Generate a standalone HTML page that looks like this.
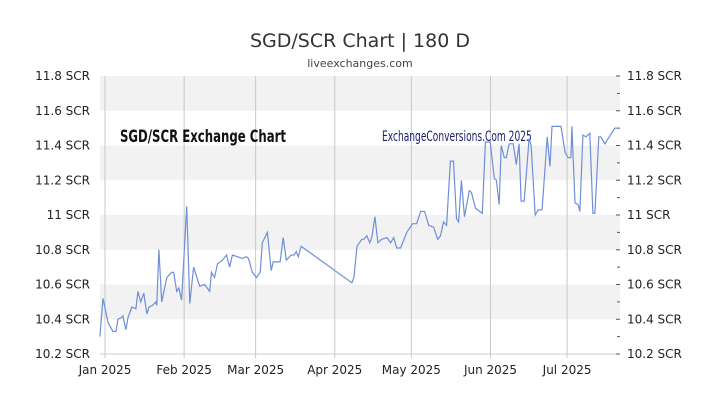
<!DOCTYPE html>
<html><head><meta charset="utf-8"><style>
body{margin:0;background:#fff;font-family:"DejaVu Sans","Liberation Sans",sans-serif}
</style></head><body>
<svg width="720" height="405" viewBox="0 0 720 405" xmlns="http://www.w3.org/2000/svg">
<text x="360" y="47" text-anchor="middle" font-size="19" fill="#333">SGD/SCR Chart | 180 D</text>
<text x="360" y="67" text-anchor="middle" font-size="11" fill="#444">liveexchanges.com</text>
<g id="bands"></g><g id="grid"></g><g id="yl"></g><g id="xl"></g>
<text x="120" y="142" font-size="17" font-weight="bold" fill="#111" transform="translate(120,0) scale(0.69,1) translate(-120,0)">SGD/SCR Exchange Chart</text>
<text x="382" y="141" font-size="14" fill="#1a1a6e" transform="translate(382,0) scale(0.65,1) translate(-382,0)">ExchangeConversions.Com 2025</text>
<path id="line" fill="none" stroke="#6f8fd8" stroke-width="1.2"/>
</svg>
<script>
const yTicks=[10.2,10.4,10.6,10.8,11,11.2,11.4,11.6,11.8];
const yTickLabels=["10.2 SCR","10.4 SCR","10.6 SCR","10.8 SCR","11 SCR","11.2 SCR","11.4 SCR","11.6 SCR","11.8 SCR"];
const monthDays=[0,31,59,90,120,151,181];
const monthLabels=["Jan 2025","Feb 2025","Mar 2025","Apr 2025","May 2025","Jun 2025","Jul 2025"];
const days=[-2.0,-0.8,1.2,3.1,4.3,5.1,6.6,7.0,8.2,9.0,10.5,12.1,12.9,14.0,15.2,16.4,17.2,18.7,19.9,20.3,21.1,22.2,24.2,26.1,26.9,28.1,28.9,30.0,32.0,33.2,34.7,37.1,39.0,41.0,41.7,42.9,44.1,46.0,47.6,48.8,49.9,51.9,53.8,55.4,56.2,57.7,59.3,60.8,61.6,63.6,65.1,65.9,68.6,69.8,71.0,72.9,74.1,74.9,75.7,76.8,96.7,97.5,98.7,100.6,101.4,102.6,103.7,104.5,105.7,106.9,108.4,110.4,111.9,113.1,114.3,115.8,118.2,120.5,122.1,123.6,125.2,126.8,128.7,130.3,131.4,132.6,133.8,135.3,136.5,137.7,138.5,139.6,140.8,142.7,143.5,145.1,147.8,149.0,150.9,152.5,153.3,154.4,155.2,156.4,157.2,158.3,159.9,161.1,162.2,163.0,164.2,166.1,166.9,168.5,169.7,171.2,173.2,174.3,175.1,176.7,178.6,180.2,181.4,182.5,182.9,184.1,185.3,186.0,187.2,188.4,189.9,191.1,191.9,193.4,194.2,195.8,199.7,200.9];
const rates=[10.30,10.52,10.38,10.33,10.33,10.40,10.41,10.42,10.34,10.41,10.47,10.46,10.56,10.50,10.55,10.43,10.47,10.48,10.50,10.48,10.80,10.50,10.64,10.67,10.67,10.56,10.58,10.51,11.05,10.49,10.70,10.59,10.60,10.56,10.67,10.64,10.72,10.74,10.77,10.70,10.77,10.76,10.75,10.76,10.75,10.67,10.64,10.67,10.84,10.90,10.68,10.73,10.73,10.87,10.74,10.77,10.77,10.79,10.76,10.82,10.61,10.64,10.82,10.86,10.86,10.88,10.84,10.87,10.99,10.84,10.86,10.87,10.84,10.87,10.81,10.81,10.90,10.95,10.95,11.02,11.02,10.94,10.93,10.86,10.88,10.96,10.94,11.31,11.31,10.98,10.96,11.20,10.99,11.14,11.13,11.04,11.01,11.42,11.42,11.21,11.20,11.06,11.40,11.33,11.33,11.41,11.41,11.29,11.41,11.08,11.08,11.44,11.40,11.00,11.03,11.03,11.45,11.28,11.51,11.51,11.51,11.36,11.33,11.33,11.51,11.07,11.06,11.02,11.46,11.45,11.47,11.01,11.01,11.45,11.45,11.41,11.50,11.50];
const X0=100,X1=620,Y0=354,Y1=76;
const xs=d=>105+d*2.553;
const ys=v=>Y0-(v-10.2)/(11.8-10.2)*(Y0-Y1);
const NS="http://www.w3.org/2000/svg";
function mk(p,t,a){const e=document.createElementNS(NS,t);for(const k in a)e.setAttribute(k,a[k]);document.getElementById(p).appendChild(e);return e;}
for(let i=0;i<yTicks.length-1;i++){
  if(i%2===1){const r=mk('bands','rect',{x:X0,y:ys(yTicks[i+1]),width:X1-X0,height:ys(yTicks[i])-ys(yTicks[i+1]),fill:'#f2f2f2'});
  
  }
}
yTicks.forEach((v,i)=>{
  const l=mk('yl','text',{x:90,y:ys(v)+4,'text-anchor':'end','font-size':12,fill:'#222'});l.textContent=yTickLabels[i];
  
  
  const r=mk('yl','text',{x:627,y:ys(v)+4,'font-size':12,fill:'#222'});r.textContent=yTickLabels[i];
  
  
  mk('yl','line',{x1:616,x2:620,y1:ys(v),y2:ys(v),stroke:'#555'});
  if(i<yTicks.length-1){mk('yl','line',{x1:617,x2:620,y1:(ys(v)+ys(yTicks[i+1]))/2,y2:(ys(v)+ys(yTicks[i+1]))/2,stroke:'#555'});}
});
mk('grid','line',{x1:X0,x2:X1,y1:Y0,y2:Y0,stroke:'#ccc'});
monthDays.forEach((d,i)=>{
  mk('grid','line',{x1:xs(d),x2:xs(d),y1:Y1,y2:Y0+4,stroke:'#c8c8c8'});
  const t=mk('xl','text',{x:xs(d),y:374,'text-anchor':'middle','font-size':12,fill:'#222'});t.textContent=monthLabels[i];
  
  
});
document.getElementById('line').setAttribute('d',days.map((d,i)=>(i?'L':'M')+xs(d).toFixed(1)+','+ys(rates[i]).toFixed(1)).join(''));
</script>
</body></html>
